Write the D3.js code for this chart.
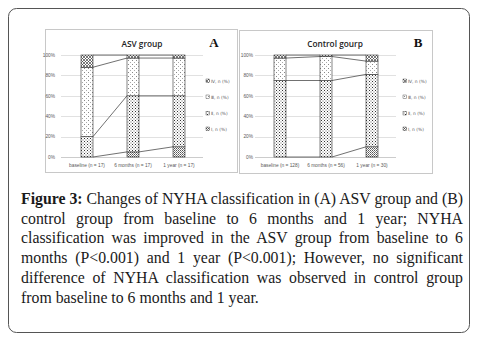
<!DOCTYPE html>
<html>
<head>
<meta charset="UTF-8">
<title>NYHA classification</title>
<script src="https://cdn.jsdelivr.net/npm/d3@7"></script>
<style>
  body { margin: 0; background: #fff; }
</style>
</head>
<body>
<svg id="mySvg" width="478" height="341"></svg>
<script>
// categories and values (% of patients), stacked from class I upwards
var classes = ["I", "II", "III", "IV"];
var legendLabels = ["Ⅰ, n (%)", "Ⅱ, n (%)", "Ⅲ, n (%)", "Ⅳ, n (%)"];
var yTicks = [0, 20, 40, 60, 80, 100];

var asvCategories = ["baseline (n = 17)", "6 months (n = 17)", "1 year (n = 17)"];
var asvI = [0, 5, 10];
var asvII = [20, 55, 50];
var asvIII = [68, 37, 37];
var asvIV = [12, 3, 3];

var ctrlCategories = ["baseline (n = 128)", "6 months (n = 56)", "1 year (n = 30)"];
var ctrlI = [0, 0, 10];
var ctrlII = [75, 75, 71];
var ctrlIII = [22, 23.5, 13];
var ctrlIV = [3, 1.5, 6];

var captionLines = [
  "Changes of NYHA classification in (A) ASV group and (B)",
  "control group from baseline to 6 months and 1 year; NYHA",
  "classification was improved in the ASV group from baseline to 6",
  "months (P<0.001) and 1 year (P<0.001); However, no significant",
  "difference of NYHA classification was observed in control group",
  "from baseline to 6 months and 1 year."
];

var svg = d3.select("#mySvg");
var defs = svg.append("defs");

// fill patterns for the four classes
function makePattern(id, size, draw) {
  var p = defs.append("pattern")
    .attr("id", id)
    .attr("patternUnits", "userSpaceOnUse")
    .attr("width", size).attr("height", size);
  p.append("rect").attr("width", size).attr("height", size).attr("fill", "#fff");
  draw(p);
}
makePattern("pI", 2, function (p) {
  p.append("rect").attr("x", 0).attr("y", 0).attr("width", 1).attr("height", 1).attr("fill", "#555");
  p.append("rect").attr("x", 1).attr("y", 1).attr("width", 1).attr("height", 1).attr("fill", "#888");
});
makePattern("pII", 3, function (p) {
  p.append("rect").attr("x", 0).attr("y", 0).attr("width", 1).attr("height", 1).attr("fill", "#333");
  p.append("rect").attr("x", 1.5).attr("y", 1.5).attr("width", 1).attr("height", 1).attr("fill", "#666");
});
makePattern("pIII", 4, function (p) {
  p.append("rect").attr("x", 0).attr("y", 0).attr("width", 1).attr("height", 1).attr("fill", "#888");
  p.append("rect").attr("x", 2).attr("y", 2).attr("width", 1).attr("height", 1).attr("fill", "#aaa");
});
makePattern("pIV", 3, function (p) {
  p.append("path").attr("d", "M0,0L3,3M3,0L0,3").attr("stroke", "#444").attr("stroke-width", 0.7);
});
var fills = { I: "url(#pI)", II: "url(#pII)", III: "url(#pIII)", IV: "url(#pIV)" };

// outer frame
svg.append("rect")
  .attr("x", 8.5).attr("y", 8.5)
  .attr("width", 461).attr("height", 324)
  .attr("rx", 8)
  .attr("fill", "none")
  .attr("stroke", "#555")
  .attr("stroke-width", 1);

function drawPanel(opt) {
  var g = svg.append("g");
  g.append("rect")
    .attr("x", opt.box[0] + 0.5).attr("y", opt.box[1] + 0.5)
    .attr("width", opt.box[2]).attr("height", opt.box[3])
    .attr("fill", "#fff").attr("stroke", "#c8c8c8");

  var rows = opt.categories.map(function (c, i) {
    return { cat: c, I: opt.I[i], II: opt.II[i], III: opt.III[i], IV: opt.IV[i] };
  });
  var x = d3.scalePoint().domain(opt.categories).range(opt.xRange).padding(0.5);
  var y = d3.scaleLinear().domain([0, 100]).range([157, 55]);
  var bw = 12;

  // gridlines
  g.selectAll(".grid").data(yTicks).enter().append("line")
    .attr("x1", opt.gridRange[0]).attr("x2", opt.gridRange[1])
    .attr("y1", function (d) { return Math.round(y(d)) + 0.5; })
    .attr("y2", function (d) { return Math.round(y(d)) + 0.5; })
    .attr("stroke", function (d) { return d === 0 ? "#bfbfbf" : "#d9d9d9"; })
    .attr("stroke-width", 0.8);

  // y tick labels
  g.selectAll(".ytick").data(yTicks).enter().append("text")
    .attr("x", opt.yLabelX).attr("y", function (d) { return y(d) + 1.7; })
    .attr("text-anchor", "end")
    .attr("font-family", "Liberation Sans, sans-serif")
    .attr("font-size", 4.8).attr("fill", "#595959")
    .text(function (d) { return d + "%"; });

  // x labels
  g.selectAll(".xlab").data(opt.categories).enter().append("text")
    .attr("x", function (d) { return x(d); }).attr("y", 167)
    .attr("text-anchor", "middle")
    .attr("font-family", "Liberation Sans, sans-serif")
    .attr("font-size", 4.8).attr("fill", "#595959")
    .text(function (d) { return d; });

  var series = d3.stack().keys(classes)(rows);

  // connector lines at each cumulative boundary
  series.forEach(function (s) {
    for (var i = 0; i < rows.length - 1; i++) {
      g.append("line")
        .attr("x1", x(rows[i].cat) + bw / 2).attr("y1", y(s[i][1]))
        .attr("x2", x(rows[i + 1].cat) - bw / 2).attr("y2", y(s[i + 1][1]))
        .attr("stroke", "#333").attr("stroke-width", 0.7);
    }
  });

  // stacked segments
  series.forEach(function (s) {
    g.selectAll(".seg-" + s.key + opt.id)
      .data(s.filter(function (d) { return d[1] - d[0] > 0; }))
      .enter().append("rect")
      .attr("x", function (d) { return x(d.data.cat) - bw / 2; })
      .attr("y", function (d) { return y(d[1]); })
      .attr("width", bw)
      .attr("height", function (d) { return y(d[0]) - y(d[1]); })
      .attr("fill", fills[s.key])
      .attr("stroke", "#333").attr("stroke-width", 0.6);
  });

  // title and panel letter
  g.append("text")
    .attr("x", opt.titleX).attr("y", 47)
    .attr("text-anchor", "middle")
    .attr("font-family", "Open Sans, sans-serif")
    .attr("font-size", 8.3).attr("font-weight", 600).attr("fill", "#222")
    .text(opt.title);
  g.append("text")
    .attr("x", opt.letterX).attr("y", 47)
    .attr("text-anchor", "middle")
    .attr("font-family", "Liberation Serif, serif")
    .attr("font-size", 13).attr("font-weight", "bold").attr("fill", "#111")
    .text(opt.letter);

  // legend, class IV on top
  var legendY = [130, 114.5, 98, 82];
  classes.forEach(function (c, i) {
    g.append("rect")
      .attr("x", opt.legendX).attr("y", legendY[i] - 3)
      .attr("width", 3.5).attr("height", 3.5)
      .attr("fill", fills[c]).attr("stroke", "#333").attr("stroke-width", 0.4);
    g.append("text")
      .attr("x", opt.legendX + 5).attr("y", legendY[i] + 0.6)
      .attr("font-family", "DejaVu Sans, sans-serif")
      .attr("font-size", 4.4).attr("fill", "#595959")
      .text(legendLabels[i]);
  });
}

drawPanel({
  id: "A", title: "ASV group", letter: "A",
  box: [45, 29, 192, 143],
  categories: asvCategories, I: asvI, II: asvII, III: asvIII, IV: asvIV,
  xRange: [64, 202], gridRange: [61, 203], yLabelX: 55,
  titleX: 142, letterX: 214, legendX: 206
});
drawPanel({
  id: "B", title: "Control gourp", letter: "B",
  box: [239, 30, 193, 143],
  categories: ctrlCategories, I: ctrlI, II: ctrlII, III: ctrlIII, IV: ctrlIV,
  xRange: [257, 395], gridRange: [255, 396], yLabelX: 253,
  titleX: 335, letterX: 418, legendX: 403
});

// caption, justified line by line
var cap = svg.append("g")
  .attr("font-family", "Liberation Serif, serif")
  .attr("font-size", 15.8)
  .attr("fill", "#1a1a1a");
var capLeft = 21, capRight = 463, lineH = 19.7, firstBase = 204;
captionLines.forEach(function (line, i) {
  var t = cap.append("text")
    .attr("x", capLeft).attr("y", firstBase + i * lineH)
    .attr("xml:space", "preserve");
  if (i === 0) {
    t.append("tspan").attr("font-weight", "bold").text("Figure 3:");
    t.append("tspan").text(" " + line);
  } else {
    t.append("tspan").text(line);
  }
  if (i < captionLines.length - 1) {
    var full = (i === 0 ? "Figure 3: " : "") + line;
    var spaces = full.split(" ").length - 1;
    var w = t.node().getComputedTextLength();
    t.attr("word-spacing", (capRight - capLeft - w) / spaces);
  }
});
</script>
</body>
</html>
